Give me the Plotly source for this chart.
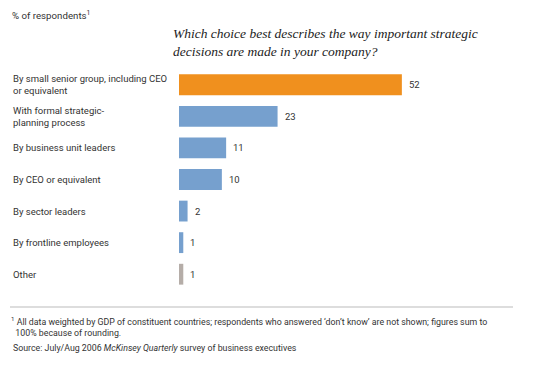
import plotly.graph_objects as go

categories = [
    "By small senior group, including CEO<br>or equivalent",
    "With formal strategic-<br>planning process",
    "By business unit leaders",
    "By CEO or equivalent",
    "By sector leaders",
    "By frontline employees",
    "Other",
]
values = [52, 23, 11, 10, 2, 1, 1]
colors = ["#F0901E", "#76A0CE", "#76A0CE", "#76A0CE", "#76A0CE", "#76A0CE", "#B5ADA8"]

FONT = "Roboto, Arial, sans-serif"
OFF = 8  # page body margin
W, H = 545 - OFF, 368 - OFF
L, T, B = 179 - OFF, 69 - OFF, 78
pw = 300
R = W - L - pw
ph = H - T - B

fig = go.Figure(go.Bar(
    x=values, y=list(range(len(values))), orientation="h",
    marker=dict(color=colors, line=dict(width=0)), width=0.66,
    hoverinfo="skip",
))

def px(xp):
    return (xp - OFF - L) / pw

def py(yp):
    return 1 - (yp - OFF - T) / ph

annotations = []
for i, (c, v) in enumerate(zip(categories, values)):
    annotations.append(dict(x=px(11), xref="paper", y=i, yref="y", text=c,
                            showarrow=False, xanchor="left", yanchor="middle", align="left",
                            font=dict(family=FONT, size=9.5, color="#333333")))
    annotations.append(dict(x=v, xref="x", y=i, yref="y", text=str(v), xshift=5,
                            showarrow=False, xanchor="left", yanchor="middle",
                            font=dict(family=FONT, size=9.5, color="#333333")))

annotations.append(dict(x=px(10), y=py(15), xref="paper", yref="paper", text="% of respondents<sup>1</sup>",
                        showarrow=False, xanchor="left", yanchor="middle",
                        font=dict(family=FONT, size=9.7, color="#333333")))
annotations.append(dict(x=px(171), y=py(43), xref="paper", yref="paper",
                        text="<i>Which choice best describes the way important strategic<br>decisions are made in your company?</i>",
                        showarrow=False, xanchor="left", yanchor="middle", align="left",
                        font=dict(family="Liberation Serif, serif", size=13.5, color="#222222")))
annotations.append(dict(x=px(9), y=py(326), xref="paper", yref="paper",
                        text="<sup>1</sup> All data weighted by GDP of constituent countries; respondents who answered \u2018don\u2019t know\u2019 are not shown; figures sum to<br>  100% because of rounding.",
                        showarrow=False, xanchor="left", yanchor="middle", align="left",
                        font=dict(family=FONT, size=8.8, color="#333333")))
annotations.append(dict(x=px(11), y=py(348), xref="paper", yref="paper",
                        text="Source: July/Aug 2006 <i>McKinsey Quarterly</i> survey of business executives",
                        showarrow=False, xanchor="left", yanchor="middle", align="left",
                        font=dict(family=FONT, size=8.8, color="#333333")))

fig.update_layout(
    width=W, height=H, margin=dict(l=L, r=R, t=T, b=B, pad=0),
    paper_bgcolor="white", plot_bgcolor="white", showlegend=False,
    xaxis=dict(range=[0, 70], visible=False, fixedrange=True),
    yaxis=dict(range=[6.5, -0.5], visible=False, fixedrange=True),
    annotations=annotations,
    shapes=[dict(type="line", xref="paper", yref="paper", x0=px(10), x1=px(513),
                 y0=py(307), y1=py(307), line=dict(color="#BBBBBB", width=1))],
)

fig.write_html("out.html")
